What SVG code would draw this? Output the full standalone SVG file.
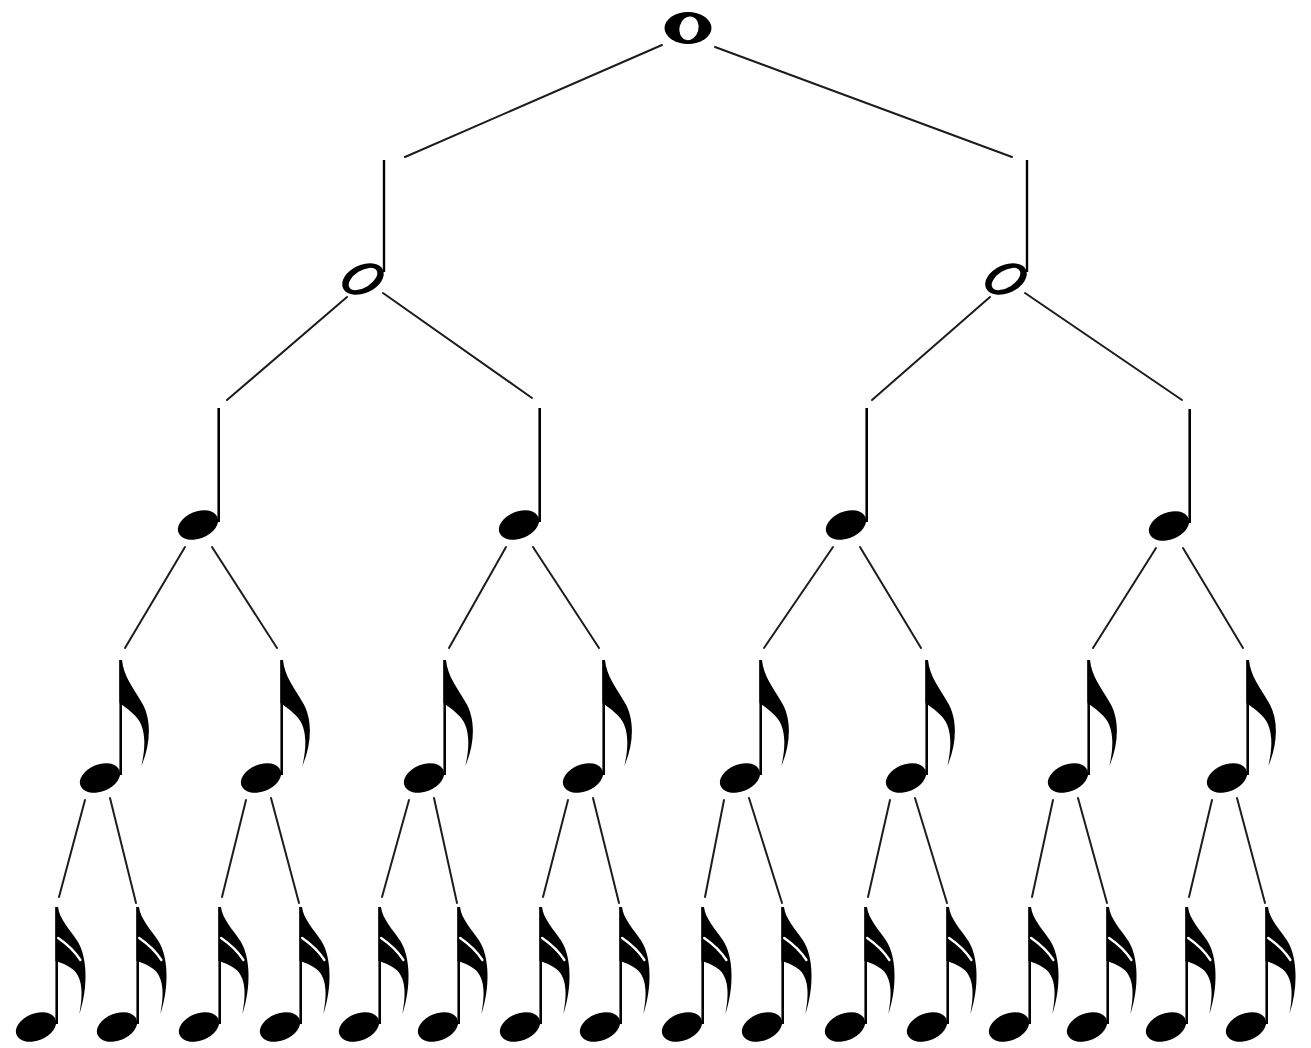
<svg xmlns="http://www.w3.org/2000/svg" xmlns:xlink="http://www.w3.org/1999/xlink" width="1311" height="1048" viewBox="0 0 1311 1048">
<style>
.conn line{stroke:#1c1c1c;stroke-width:2;stroke-linecap:round}
.ink{fill:#000}
</style>
<defs>
<g id="head"><ellipse class="ink" rx="21" ry="13.5" transform="rotate(-22)"/></g>
<g id="quarter"><use href="#head"/><rect class="ink" x="19.4" y="-117" width="2.6" height="114"/></g>
<g id="eighth"><use href="#head"/><rect class="ink" x="19.4" y="-118" width="2.6" height="115"/>
<path class="ink" transform="translate(19.4,-118)" d="M0,0 L2.6,0 C4,16 14,28 22,42 C32,58 32,82 22,106 C27,84 26,66 16,56 C9,49 3,45 0,43 Z"/></g>
<g id="sixteenth"><use href="#head"/><rect class="ink" x="19.4" y="-120" width="2.6" height="117"/>
<g transform="translate(19.4,-120)"><path class="ink" d="M0,0 L2.6,0 C4,12 14,22 22,34 C32,50 33,80 24,107 C28,86 27,70 17,62 C10,57 4,55 0,54 Z"/>
<path d="M2.8,31 C10,36 18,42 25,53" fill="none" stroke="#fff" stroke-width="2.4" stroke-linecap="round"/></g></g>
<g id="half"><ellipse class="ink" rx="22" ry="14" transform="rotate(-25)"/><ellipse fill="#fff" rx="16" ry="8.5" transform="rotate(-32)"/><rect class="ink" x="19.8" y="-119" width="2.4" height="112"/></g>
<g id="whole"><ellipse class="ink" rx="23.5" ry="16"/><ellipse fill="#fff" cx="1" rx="9.5" ry="12" transform="rotate(15)"/></g>
</defs>
<rect width="1311" height="1048" fill="#fff"/>
<g id="connectors" class="conn">
<line x1="662" y1="45" x2="405" y2="157"/>
<line x1="715" y1="47" x2="1012" y2="157"/>
<line x1="347" y1="297" x2="227" y2="400"/>
<line x1="383" y1="293" x2="532" y2="398"/>
<line x1="990" y1="297" x2="872" y2="400"/>
<line x1="1025" y1="293" x2="1182" y2="400"/>
<line x1="185" y1="547" x2="125" y2="648"/>
<line x1="212" y1="547" x2="277" y2="648"/>
<line x1="506" y1="547" x2="449" y2="648"/>
<line x1="533" y1="547" x2="599" y2="648"/>
<line x1="833" y1="547" x2="764" y2="648"/>
<line x1="860" y1="547" x2="921" y2="648"/>
<line x1="1156" y1="548" x2="1093" y2="648"/>
<line x1="1183" y1="548" x2="1243" y2="648"/>
<line x1="85" y1="800" x2="59" y2="897"/>
<line x1="110" y1="798" x2="136" y2="903"/>
<line x1="246" y1="800" x2="222" y2="897"/>
<line x1="271" y1="798" x2="299" y2="903"/>
<line x1="409" y1="800" x2="382" y2="897"/>
<line x1="434" y1="798" x2="457" y2="903"/>
<line x1="568" y1="800" x2="543" y2="897"/>
<line x1="593" y1="798" x2="619" y2="903"/>
<line x1="724" y1="800" x2="705" y2="897"/>
<line x1="749" y1="798" x2="782" y2="903"/>
<line x1="890" y1="800" x2="868" y2="897"/>
<line x1="915" y1="798" x2="947" y2="903"/>
<line x1="1053" y1="800" x2="1032" y2="897"/>
<line x1="1078" y1="798" x2="1107" y2="903"/>
<line x1="1212" y1="800" x2="1189" y2="897"/>
<line x1="1237" y1="798" x2="1265" y2="903"/>
</g>
<g id="n-whole"><use href="#whole" transform="translate(688,28)"/></g>
<g id="n-half-1"><use href="#half" transform="translate(363,279)"/></g>
<g id="n-half-2"><use href="#half" transform="translate(1006,279)"/></g>
<g id="n-quarter-1"><use href="#quarter" transform="translate(198,525)"/></g>
<g id="n-quarter-2"><use href="#quarter" transform="translate(519,525)"/></g>
<g id="n-quarter-3"><use href="#quarter" transform="translate(846,525)"/></g>
<g id="n-quarter-4"><use href="#quarter" transform="translate(1169,526)"/></g>
<g id="n-eighth-1"><use href="#eighth" transform="translate(100,778)"/></g>
<g id="n-eighth-2"><use href="#eighth" transform="translate(261,778)"/></g>
<g id="n-eighth-3"><use href="#eighth" transform="translate(424,778)"/></g>
<g id="n-eighth-4"><use href="#eighth" transform="translate(583,778)"/></g>
<g id="n-eighth-5"><use href="#eighth" transform="translate(740,778)"/></g>
<g id="n-eighth-6"><use href="#eighth" transform="translate(906,778)"/></g>
<g id="n-eighth-7"><use href="#eighth" transform="translate(1068,778)"/></g>
<g id="n-eighth-8"><use href="#eighth" transform="translate(1227,778)"/></g>
<g id="n-16-1"><use href="#sixteenth" transform="translate(36,1027)"/></g>
<g id="n-16-2"><use href="#sixteenth" transform="translate(117,1027)"/></g>
<g id="n-16-3"><use href="#sixteenth" transform="translate(199,1027)"/></g>
<g id="n-16-4"><use href="#sixteenth" transform="translate(280,1027)"/></g>
<g id="n-16-5"><use href="#sixteenth" transform="translate(359,1027)"/></g>
<g id="n-16-6"><use href="#sixteenth" transform="translate(438,1027)"/></g>
<g id="n-16-7"><use href="#sixteenth" transform="translate(520,1027)"/></g>
<g id="n-16-8"><use href="#sixteenth" transform="translate(600,1027)"/></g>
<g id="n-16-9"><use href="#sixteenth" transform="translate(682,1027)"/></g>
<g id="n-16-10"><use href="#sixteenth" transform="translate(762,1027)"/></g>
<g id="n-16-11"><use href="#sixteenth" transform="translate(845,1027)"/></g>
<g id="n-16-12"><use href="#sixteenth" transform="translate(927,1027)"/></g>
<g id="n-16-13"><use href="#sixteenth" transform="translate(1009,1027)"/></g>
<g id="n-16-14"><use href="#sixteenth" transform="translate(1087,1027)"/></g>
<g id="n-16-15"><use href="#sixteenth" transform="translate(1166,1027)"/></g>
<g id="n-16-16"><use href="#sixteenth" transform="translate(1246,1027)"/></g>
</svg>
